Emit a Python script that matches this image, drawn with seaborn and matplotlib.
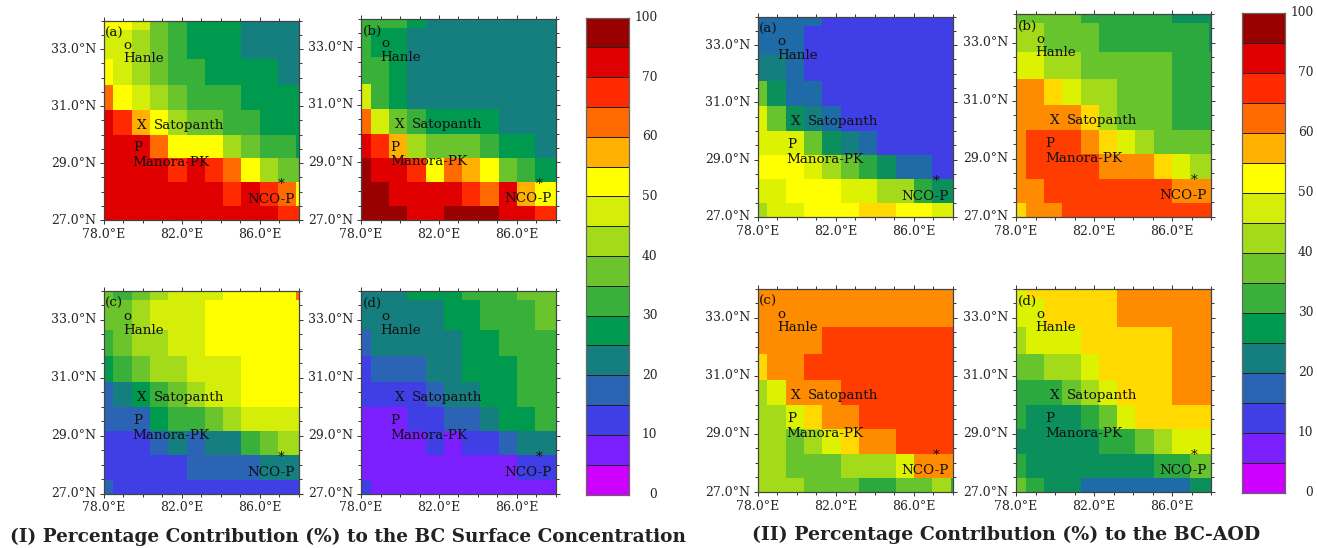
# Percentage contribution maps: BC surface concentration (I) and BC-AOD (II)
import numpy as np
import matplotlib
matplotlib.use("Agg")
import matplotlib.pyplot as plt
from matplotlib.colors import BoundaryNorm, ListedColormap
import seaborn as sns

# model grid cell edges (deg), lat goes north to south like the rows below
lon_edges = [78, 78.5, 79.44, 80.38, 81.32, 82.26, 83.18, 84.12, 85.06, 86.0, 86.94, 87.88, 88]
lat_edges = [34, 33.68, 32.66, 31.74, 30.86, 30.0, 29.16, 28.32, 27.48, 27]

levels = [0, 5, 10, 15, 20, 25, 30, 35, 40, 45, 50, 55, 60, 65, 70, 85, 100]
bar_values = [2, 7, 12, 17, 22, 27, 32, 37, 42, 47, 52, 57, 62, 67, 75, 90]
bar_labels = ["0", "10", "20", "30", "40", "50", "60", "70", "100"]

bar_colors = ["#CC00FF", "#7B1FFF", "#3F3FE5", "#2B63B5", "#157F7F", "#009A4E", "#38B03A", "#6CC42C",
              "#A3DB1A", "#D4EE0A", "#FFFF00", "#FFB000", "#FF6A00", "#FF2A00", "#E00000", "#990000"]
# the AOD maps came out a bit different from their colourbar
aod_colors = ["#CC00FF", "#7B1FFF", "#3F3FE5", "#1F6BA8", "#157F7F", "#0B8F5B", "#2BA83E", "#68C42C",
              "#A3DB1A", "#DDF200", "#FFFF00", "#FFD900", "#FF8C00", "#FF3D00", "#E00000", "#990000"]

surf_a = [
    [52, 52, 47, 37, 32, 27, 27, 27, 22, 22, 22, 22],
    [47, 47, 42, 37, 32, 27, 27, 27, 22, 22, 22, 22],
    [52, 47, 42, 37, 32, 32, 27, 27, 27, 27, 22, 22],
    [62, 52, 47, 42, 37, 32, 32, 32, 27, 27, 27, 27],
    [75, 67, 57, 52, 42, 37, 37, 32, 32, 27, 27, 27],
    [75, 75, 75, 62, 52, 52, 52, 42, 37, 32, 32, 27],
    [75, 75, 75, 75, 67, 75, 67, 62, 52, 42, 37, 37],
    [75, 75, 75, 75, 75, 75, 75, 67, 75, 67, 62, 52],
    [75, 75, 75, 75, 75, 75, 75, 75, 75, 75, 67, 67],
]
surf_b = [
    [32, 32, 32, 27, 22, 22, 22, 22, 22, 22, 22, 22],
    [32, 27, 27, 22, 22, 22, 22, 22, 22, 22, 22, 22],
    [32, 32, 27, 22, 22, 22, 22, 22, 22, 22, 22, 22],
    [47, 32, 27, 22, 22, 22, 22, 22, 22, 22, 22, 22],
    [62, 47, 37, 32, 27, 27, 27, 27, 22, 22, 22, 22],
    [75, 67, 57, 42, 37, 37, 37, 32, 27, 27, 22, 22],
    [90, 75, 75, 67, 52, 62, 57, 52, 37, 32, 27, 27],
    [90, 90, 75, 75, 75, 75, 67, 62, 75, 57, 52, 52],
    [90, 90, 90, 75, 75, 90, 90, 90, 75, 75, 67, 67],
]
surf_c = [
    [37, 32, 37, 42, 47, 47, 47, 52, 52, 52, 52, 62],
    [37, 37, 42, 47, 47, 47, 52, 52, 52, 52, 52, 52],
    [32, 37, 42, 42, 47, 47, 52, 52, 52, 52, 52, 52],
    [27, 32, 37, 42, 42, 47, 47, 47, 52, 52, 52, 52],
    [17, 22, 27, 32, 37, 42, 47, 47, 52, 52, 52, 52],
    [17, 17, 17, 27, 32, 32, 37, 42, 47, 47, 47, 47],
    [12, 12, 12, 17, 22, 17, 22, 22, 32, 37, 42, 42],
    [12, 12, 12, 12, 12, 17, 17, 17, 17, 22, 22, 22],
    [17, 12, 12, 12, 12, 12, 12, 12, 12, 12, 12, 12],
]
surf_d = [
    [22, 22, 22, 27, 27, 27, 32, 32, 32, 37, 37, 37],
    [22, 22, 22, 22, 22, 27, 27, 32, 32, 32, 37, 37],
    [17, 22, 22, 22, 22, 22, 27, 27, 32, 32, 32, 32],
    [12, 17, 17, 17, 22, 22, 27, 27, 27, 32, 32, 32],
    [12, 12, 12, 12, 17, 22, 22, 27, 27, 32, 32, 32],
    [7, 7, 7, 12, 12, 17, 17, 22, 27, 27, 32, 32],
    [7, 7, 7, 7, 12, 7, 12, 12, 17, 22, 22, 22],
    [7, 7, 7, 7, 7, 7, 7, 7, 7, 12, 12, 12],
    [12, 7, 7, 7, 7, 7, 7, 7, 7, 7, 7, 7],
]
aod_a = [
    [17, 17, 17, 17, 12, 12, 12, 12, 12, 12, 12, 12],
    [17, 17, 17, 12, 12, 12, 12, 12, 12, 12, 12, 12],
    [22, 22, 17, 12, 12, 12, 12, 12, 12, 12, 12, 12],
    [37, 27, 17, 17, 12, 12, 12, 12, 12, 12, 12, 12],
    [47, 37, 27, 22, 17, 12, 12, 12, 12, 12, 12, 12],
    [47, 47, 47, 37, 27, 22, 17, 12, 12, 12, 12, 12],
    [52, 52, 52, 47, 42, 37, 32, 27, 17, 17, 12, 12],
    [47, 47, 52, 52, 52, 47, 47, 42, 42, 32, 27, 27],
    [42, 47, 47, 52, 52, 52, 57, 57, 52, 52, 47, 47],
]
aod_b = [
    [37, 37, 37, 37, 32, 32, 32, 32, 32, 27, 27, 27],
    [42, 42, 37, 37, 37, 32, 32, 32, 32, 32, 32, 27],
    [47, 47, 42, 42, 37, 37, 37, 37, 37, 32, 32, 32],
    [62, 62, 57, 47, 42, 42, 37, 37, 37, 32, 32, 32],
    [62, 62, 62, 62, 57, 42, 37, 37, 37, 32, 32, 32],
    [62, 67, 67, 67, 62, 57, 47, 42, 37, 37, 37, 37],
    [62, 67, 67, 67, 67, 62, 62, 62, 57, 47, 42, 42],
    [62, 62, 67, 67, 67, 67, 67, 67, 67, 62, 62, 62],
    [57, 62, 62, 67, 67, 67, 67, 67, 67, 67, 67, 67],
]
aod_c = [
    [62, 62, 62, 62, 62, 62, 62, 62, 62, 62, 62, 62],
    [62, 62, 62, 62, 62, 62, 62, 62, 62, 62, 62, 62],
    [62, 62, 62, 62, 67, 67, 67, 67, 67, 67, 67, 67],
    [57, 62, 62, 67, 67, 67, 67, 67, 67, 67, 67, 67],
    [42, 47, 62, 62, 62, 67, 67, 67, 67, 67, 67, 67],
    [42, 42, 47, 57, 62, 62, 67, 67, 67, 67, 67, 67],
    [42, 42, 37, 42, 47, 57, 62, 62, 67, 67, 67, 67],
    [42, 42, 37, 37, 37, 42, 42, 42, 47, 62, 62, 62],
    [42, 42, 42, 37, 37, 37, 32, 32, 37, 37, 42, 32],
]
aod_d = [
    [47, 57, 57, 57, 57, 57, 62, 62, 62, 62, 62, 62],
    [47, 47, 57, 57, 57, 57, 62, 62, 62, 62, 62, 62],
    [42, 47, 47, 47, 57, 57, 57, 57, 57, 62, 62, 62],
    [37, 37, 42, 42, 47, 57, 57, 57, 57, 62, 62, 62],
    [32, 32, 32, 37, 42, 47, 57, 57, 57, 62, 62, 62],
    [32, 27, 27, 27, 32, 37, 47, 57, 57, 57, 57, 57],
    [27, 27, 27, 27, 27, 32, 32, 37, 42, 47, 47, 47],
    [32, 27, 27, 27, 27, 27, 27, 27, 32, 32, 37, 37],
    [37, 32, 27, 27, 17, 17, 17, 17, 17, 17, 27, 27],
]

# station marks and names: text, lon, lat
site_labels = [
    ("o", 79.02, 33.12), ("Hanle", 78.99, 32.65),
    ("X", 79.72, 30.33), ("Satopanth", 80.6, 30.33),
    ("P", 79.5, 29.53), ("Manora-PK", 79.5, 29.02),
    ("NCO-P", 85.37, 27.73), ("*", 86.94, 28.24),
]

W, H = 1317, 548
STEP = 0.02  # heatmap needs even cells, so the uneven grid cells get repeated at this step

sns.set_theme(style="ticks")
plt.rcParams["font.family"] = ["DejaVu Serif"]
plt.rcParams["mathtext.fontset"] = "dejavuserif"

fig = plt.figure(figsize=(W / 100, H / 100), dpi=100)


def px_axes(x0, y0, x1, y1):
    return fig.add_axes([x0 / W, 1 - y1 / H, (x1 - x0) / W, (y1 - y0) / H])


def to_x(lon):
    return (np.asarray(lon, dtype=float) - 78) / STEP


def to_y(lat):
    return (34 - np.asarray(lat, dtype=float)) / STEP


col_rep = np.round(np.diff(lon_edges) / STEP).astype(int)
row_rep = np.round(-np.diff(lat_edges) / STEP).astype(int)
norm = BoundaryNorm(levels, 16)


def draw_map(box, grid, colors, tag):
    ax = px_axes(*box)
    fine = np.repeat(np.repeat(np.array(grid), row_rep, axis=0), col_rep, axis=1)
    sns.heatmap(fine, ax=ax, cmap=ListedColormap(colors), norm=norm, cbar=False,
                xticklabels=False, yticklabels=False)
    for s in ax.spines.values():
        s.set_visible(True)
        s.set_color("#444444")
        s.set_linewidth(0.9)
    ax.set_xticks(to_x([78, 82, 86]))
    ax.set_xticklabels(["78.0°E", "82.0°E", "86.0°E"], rotation=0)
    ax.set_xticks(to_x(np.arange(78, 89)), minor=True)
    ax.set_yticks(to_y([27, 29, 31, 33]))
    ax.set_yticklabels(["27.0°N", "29.0°N", "31.0°N", "33.0°N"], rotation=0, va="center")
    ax.set_yticks(to_y(np.arange(27, 34.5, 0.5)), minor=True)
    ax.tick_params(which="both", direction="out", top=True, right=True, bottom=True, left=True,
                   color="#333333", width=0.7)
    ax.tick_params(which="major", length=3, labelsize=9, pad=2.5)
    ax.tick_params(which="minor", length=2)
    for name, lon, lat in site_labels:
        ax.text(to_x(lon), to_y(lat), name, fontsize=9.7, ha="left", va="center", color="#111111")
    ax.text(to_x(78.08), to_y(33.56), tag, fontsize=9.7, ha="left", va="center", color="#111111")
    return ax


def draw_bar(box):
    ax = px_axes(*box)
    sns.heatmap(np.array(bar_values[::-1]).reshape(-1, 1), ax=ax, cmap=ListedColormap(bar_colors), norm=norm,
                cbar=False, xticklabels=False, yticklabels=False, linewidths=0.7, linecolor="#222222")
    for s in ax.spines.values():
        s.set_visible(True)
        s.set_color("#666666")
        s.set_linewidth(0.9)
    ax.yaxis.tick_right()
    ax.set_yticks(np.arange(0, 17, 2))
    ax.set_yticklabels(bar_labels[::-1], rotation=0, ha="right", va="center")
    ax.tick_params(axis="y", length=0, labelsize=8.8, pad=20.5)
    return ax


draw_map((103.5, 20.5, 298.5, 220), surf_a, bar_colors, "(a)")
draw_map((361, 18.5, 556, 220), surf_b, bar_colors, "(b)")
draw_map((103.5, 291, 298.5, 493.5), surf_c, bar_colors, "(c)")
draw_map((361, 291, 556, 493.5), surf_d, bar_colors, "(d)")
draw_bar((586, 17.5, 629, 494.5))

draw_map((757.5, 16.5, 953, 217), aod_a, aod_colors, "(a)")
draw_map((1016, 13.5, 1211, 217), aod_b, aod_colors, "(b)")
draw_map((757.5, 288.5, 953, 492), aod_c, aod_colors, "(c)")
draw_map((1016, 288.5, 1211, 492), aod_d, aod_colors, "(d)")
draw_bar((1241.5, 12.5, 1285, 493))

fig.text(10 / W, 1 - 537 / H, "(I) Percentage Contribution (%) to the BC Surface Concentration",
         fontsize=13.3, fontweight="bold", ha="left", va="center", color="#222222")
fig.text(752 / W, 1 - 535 / H, "(II) Percentage Contribution (%) to the BC-AOD",
         fontsize=13.6, fontweight="bold", ha="left", va="center", color="#222222")

fig.savefig("out.png", dpi=100)
